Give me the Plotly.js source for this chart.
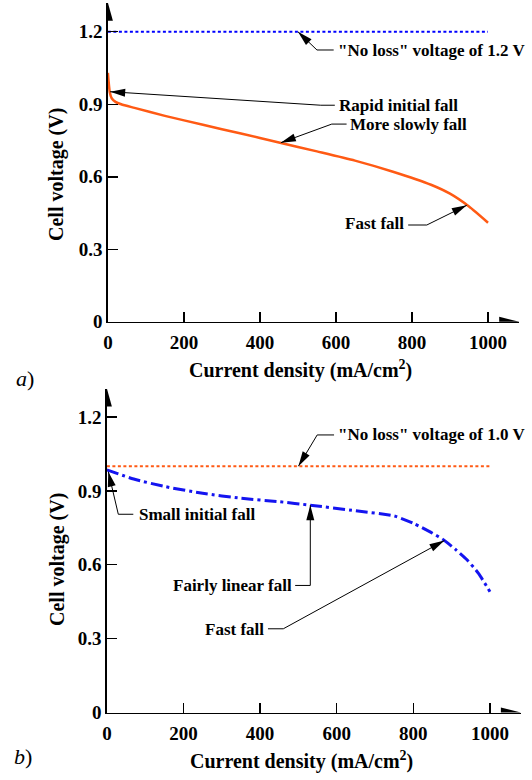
<!DOCTYPE html>
<html><head><meta charset="utf-8">
<script src="https://cdn.plot.ly/plotly-3.0.1.min.js"></script>
<style>html,body{margin:0;padding:0;background:#fff}#chart{width:532px;height:780px}</style>
</head><body><div id="chart"></div>
<script>
// ---------- data ----------
const currentA = [0, 5, 10, 20, 35, 70, 150, 250, 350, 450, 550, 650, 750, 850, 900, 950, 1000];
const voltageA = [1.03, 0.95, 0.925, 0.91, 0.90, 0.885, 0.852, 0.815, 0.779, 0.742, 0.705, 0.667, 0.621, 0.567, 0.53, 0.477, 0.41];
const noLossCurrent = [0, 1000];
const noLossVoltageA = [1.2, 1.2];
const currentB = [0, 70, 150, 250, 350, 450, 530, 650, 750, 800, 850, 880, 910, 940, 970, 1000];
const voltageB = [0.985, 0.948, 0.918, 0.89, 0.87, 0.856, 0.842, 0.819, 0.798, 0.768, 0.728, 0.70, 0.662, 0.62, 0.565, 0.49];
const noLossVoltageB = [1.0, 1.0];
const xTickVals = [0, 200, 400, 600, 800, 1000];
const xTickText = ['0', '200', '400', '600', '800', '1000'];
const yTickVals = [0, 0.3, 0.6, 0.9, 1.2];
const yTickText = ['0', '0.3', '0.6', '0.9', '1.2'];

// ---------- layout geometry ----------
const W = 532, H = 780;
const FONT = '"Liberation Serif", "Times New Roman", serif';
const axA = {x: {domain: [0.2028, 0.9759], range: [0, 1082]}, y: {domain: [0.5874, 0.9965], range: [0, 1.320]}};
const axB = {x: {domain: [0.2009, 0.9791], range: [0, 1080.7]}, y: {domain: [0.0865, 0.5019], range: [0, 1.3155]}};
function scale(ax) {
  return {
    px: (ax.x.domain[1] - ax.x.domain[0]) * W / (ax.x.range[1] - ax.x.range[0]),
    py: (ax.y.domain[1] - ax.y.domain[0]) * H / (ax.y.range[1] - ax.y.range[0])
  };
}
const sA = scale(axA), sB = scale(axB);

const tickFont = {family: FONT, size: 19, color: '#000', weight: 'bold'};
function mkX(ax, anchor) {
  return {domain: ax.x.domain, range: ax.x.range, anchor: anchor, showgrid: false, zeroline: false,
    showline: true, linecolor: '#000', linewidth: 1.5, ticks: 'inside', ticklen: 10, tickwidth: 1.5,
    tickcolor: '#000', tickvals: xTickVals, ticktext: xTickText, tickfont: tickFont, ticklabelstandoff: 3,
    fixedrange: true, automargin: false};
}
function mkY(ax, anchor) {
  return {domain: ax.y.domain, range: ax.y.range, anchor: anchor, showgrid: false, zeroline: false,
    showline: true, linecolor: '#000', linewidth: 1.5, ticks: 'inside', ticklen: 10, tickwidth: 1.5,
    tickcolor: '#000', tickvals: yTickVals, ticktext: yTickText, tickfont: tickFont, fixedrange: true, automargin: false};
}

function fmt(v) { return v.toFixed(2); }
function head(xref, yref, s, from, to, L, Wd) {
  const dx = (to[0] - from[0]) * s.px, dy = (to[1] - from[1]) * s.py;
  const len = Math.hypot(dx, dy) || 1;
  const ux = dx / len, uy = dy / len, nx = -uy, ny = ux;
  const bx = -L * ux, by = -L * uy;
  const p1 = [bx + nx * Wd / 2, by + ny * Wd / 2], p2 = [bx - nx * Wd / 2, by - ny * Wd / 2];
  return {type: 'path', xref: xref, yref: yref, xsizemode: 'pixel', ysizemode: 'pixel',
    xanchor: to[0], yanchor: to[1], path: `M0,0L${fmt(p1[0])},${fmt(p1[1])}L${fmt(p2[0])},${fmt(p2[1])}Z`,
    fillcolor: '#000', line: {width: 0}, layer: 'above'};
}
function seg(xref, yref, a, b, w) {
  return {type: 'line', xref: xref, yref: yref, x0: a[0], y0: a[1], x1: b[0], y1: b[1], line: {color: '#000', width: w || 1}, layer: 'above'};
}

// callouts: text position, elbow, end of horizontal piece, arrow tip
const calloutsA = [
  {text: '"No loss" voltage of 1.2 V', at: [600, 1.124], anchor: 'left', elbow: [550, 1.1245], end: [594, 1.1245], tip: [500, 1.2]},
  {text: 'Rapid initial fall', at: [604, 0.893], anchor: 'left', elbow: [560, 0.896], end: [597, 0.896], tip: [6, 0.952]},
  {text: 'More slowly fall', at: [632, 0.818], anchor: 'left', elbow: [589, 0.818], end: [628, 0.818], tip: [455, 0.741]},
  {text: 'Fast fall', at: [784, 0.4075], anchor: 'right', elbow: [839, 0.4005], end: [790, 0.4005], tip: [944, 0.482]}
];
const calloutsB = [
  {text: '"No loss" voltage of 1.0 V', at: [598, 1.1295], anchor: 'left', elbow: [549, 1.127], end: [593, 1.127], tip: [500, 1.0]},
  {text: 'Small initial fall', at: [78, 0.805], anchor: 'left', elbow: [29.8, 0.805], end: [69, 0.805], tip: [3.7, 0.978]},
  {text: 'Fairly linear fall', at: [489.7, 0.5164], anchor: 'right', elbow: [531, 0.516], end: [491.5, 0.516], tip: [531, 0.842]},
  {text: 'Fast fall', at: [414.5, 0.3374], anchor: 'right', elbow: [460.5, 0.340], end: [420.5, 0.340], tip: [881, 0.698]}
];

const shapes = [];
const annotations = [];
function addCallouts(list, xref, yref, s) {
  list.forEach(c => {
    shapes.push(seg(xref, yref, c.elbow, c.end, 1));
    shapes.push(seg(xref, yref, c.elbow, c.tip, 1));
    shapes.push(head(xref, yref, s, c.elbow, c.tip, 15, 8));
    annotations.push({xref: xref, yref: yref, x: c.at[0], y: c.at[1], text: c.text, showarrow: false,
      xanchor: c.anchor, yanchor: 'middle', font: {family: FONT, size: 17, color: '#000', weight: 'bold'}});
  });
}
addCallouts(calloutsA, 'x', 'y', sA);
addCallouts(calloutsB, 'x2', 'y2', sB);

// axis arrowheads
shapes.push(head('x', 'y', sA, [0, 0], [axA.x.range[1], 0], 20, 10));
shapes.push(head('x', 'y', sA, [0, 0], [0, axA.y.range[1]], 18, 10));
shapes.push(head('x2', 'y2', sB, [0, 0], [axB.x.range[1], 0], 20, 10));
shapes.push(head('x2', 'y2', sB, [0, 0], [0, axB.y.range[1]], 18, 10));

// axis titles and panel labels
const titleFont = {family: FONT, size: 20, color: '#000', weight: 'bold'};
annotations.push(
  {xref: 'paper', yref: 'paper', x: 57 / W, y: 1 - 175 / H, text: 'Cell voltage (V)', textangle: -90, showarrow: false, xanchor: 'center', yanchor: 'middle', font: titleFont},
  {xref: 'paper', yref: 'paper', x: 57 / W, y: 1 - 560 / H, text: 'Cell voltage (V)', textangle: -90, showarrow: false, xanchor: 'center', yanchor: 'middle', font: titleFont},
  {xref: 'paper', yref: 'paper', x: 300 / W, y: 1 - 369 / H, text: 'Current density (mA/cm<sup>2</sup>)', showarrow: false, xanchor: 'center', yanchor: 'middle', font: titleFont},
  {xref: 'paper', yref: 'paper', x: 301 / W, y: 1 - 760 / H, text: 'Current density (mA/cm<sup>2</sup>)', showarrow: false, xanchor: 'center', yanchor: 'middle', font: titleFont},
  {xref: 'paper', yref: 'paper', x: 25 / W, y: 1 - 378 / H, text: '<i>a</i>)', showarrow: false, xanchor: 'center', yanchor: 'middle', font: {family: FONT, size: 22, color: '#000'}},
  {xref: 'paper', yref: 'paper', x: 23 / W, y: 1 - 756 / H, text: '<i>b</i>)', showarrow: false, xanchor: 'center', yanchor: 'middle', font: {family: FONT, size: 22, color: '#000'}}
);

const traces = [
  {x: noLossCurrent, y: noLossVoltageA, xaxis: 'x', yaxis: 'y', mode: 'lines', line: {color: '#0000FF', width: 2, dash: '3px,2.5px'}, hoverinfo: 'skip'},
  {x: currentA, y: voltageA, xaxis: 'x', yaxis: 'y', mode: 'lines', line: {color: '#FF5A14', width: 2.5, shape: 'spline', smoothing: 0.6}, hoverinfo: 'skip'},
  {x: noLossCurrent, y: noLossVoltageB, xaxis: 'x2', yaxis: 'y2', mode: 'lines', line: {color: '#FF5A14', width: 2, dash: '3px,2.5px'}, hoverinfo: 'skip'},
  {x: currentB, y: voltageB, xaxis: 'x2', yaxis: 'y2', mode: 'lines', line: {color: '#1414F0', width: 3, shape: 'spline', smoothing: 0.6, dash: '12px,4px,3px,4px'}, hoverinfo: 'skip'}
];

const layout = {
  width: W, height: H, margin: {l: 0, r: 0, t: 0, b: 0}, paper_bgcolor: '#fff', plot_bgcolor: 'rgba(0,0,0,0)',
  showlegend: false, font: {family: FONT, color: '#000'},
  xaxis: mkX(axA, 'y'), yaxis: mkY(axA, 'x'),
  xaxis2: mkX(axB, 'y2'), yaxis2: mkY(axB, 'x2'),
  shapes: shapes, annotations: annotations
};
Plotly.newPlot('chart', traces, layout, {displayModeBar: false, staticPlot: true});
</script>
</body></html>
